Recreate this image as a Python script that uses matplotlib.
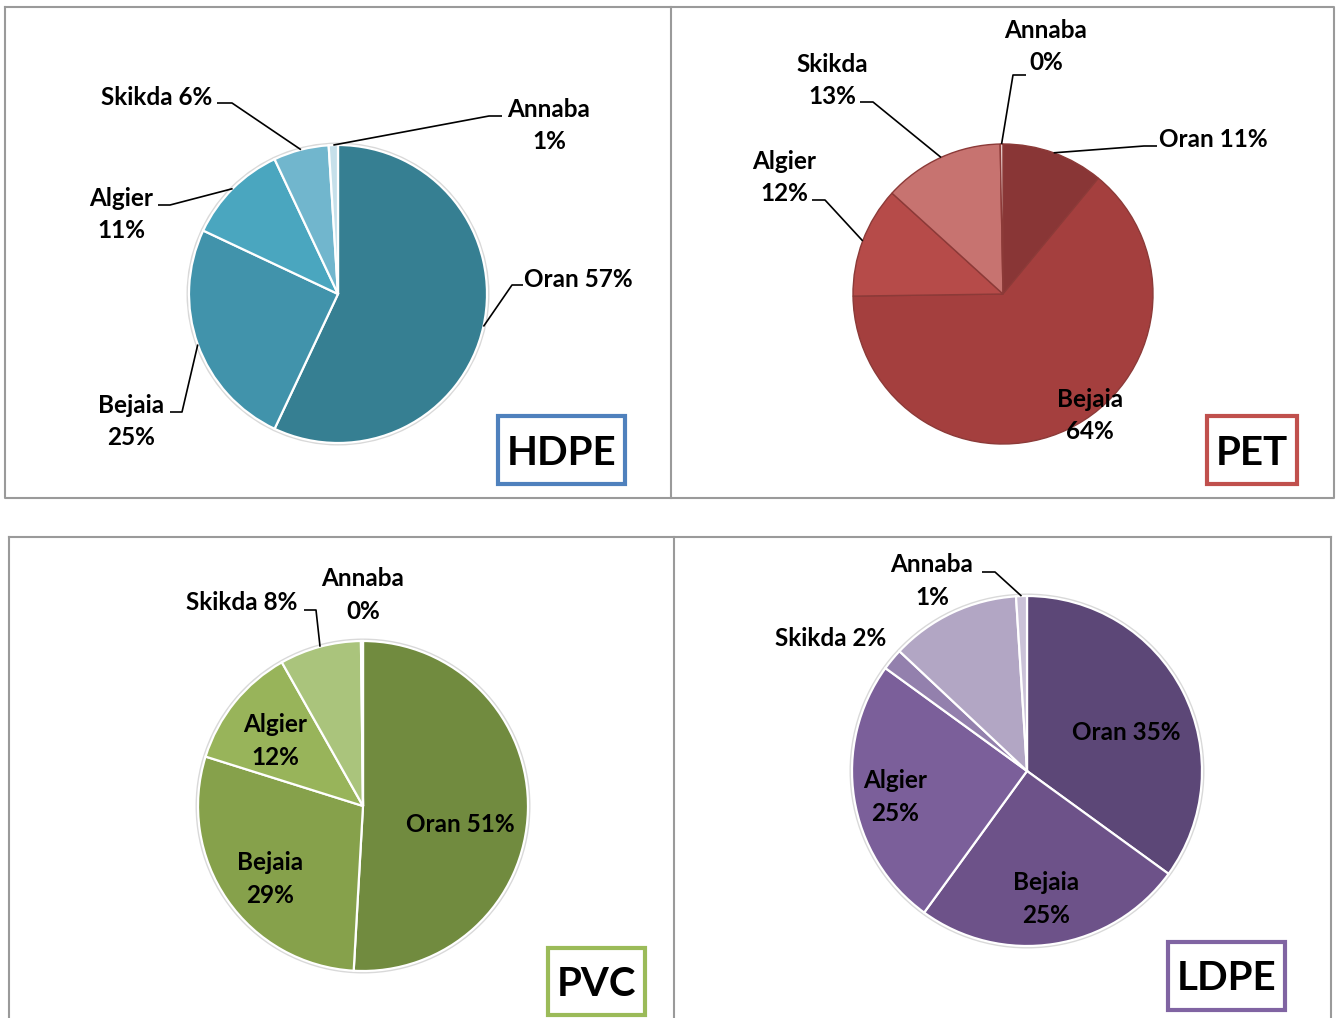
import numpy as np
import matplotlib.pyplot as plt
from matplotlib.patches import Circle, Rectangle

W, H = 1336, 1018

# data
cities = ["Oran", "Bejaia", "Algier", "Skikda", "Annaba"]
hdpe = [57, 25, 11, 6, 1]
pet = [11, 64, 12, 13, 0.3]
pvc = [51, 29, 12, 8, 0.2]
ldpe_cities = ["Oran", "Bejaia", "Algier", "Skikda", "", "Annaba"]
ldpe = [35, 25, 25, 2, 12, 1]

hdpe_colors = ["#367f92", "#4193ab", "#4aa6bf", "#71b6cd", "#c6e0ea"]
pet_colors = ["#893636", "#a43f3e", "#b64b49", "#c77370", "#e8cdcc"]
pvc_colors = ["#718b3f", "#86a14b", "#98b45a", "#aac47c", "#d6e3c3"]
ldpe_colors = ["#5c4777", "#6d5289", "#7b5f9a", "#9380ad", "#b2a6c4", "#cbc2d8"]

FONT = "Lato"
LBL = 17.5
LINE = 32.5

fig = plt.figure(figsize=(W / 100, H / 100), dpi=100)
ax = fig.add_axes([0, 0, 1, 1])


def label_text(x, y, lines):
    # y is the image row of the first line
    for i, s in enumerate(lines):
        ax.text(x, H - (y + i * LINE) - 1, s, ha="center", va="center",
                fontsize=LBL, fontweight="bold", family=FONT, color="black")


def panel(values, names, colors, cx, cy, r, edge, edge_lw, labels, shadow=True):
    if shadow:
        ax.add_patch(Circle((cx, H - cy), r + 2.5, facecolor="#d9d9d9",
                            edgecolor="none", zorder=0))
    ax.pie(values, colors=colors, startangle=90, counterclock=False,
           center=(cx, H - cy), radius=r,
           wedgeprops=dict(edgecolor=edge, linewidth=edge_lw))
    total = float(sum(values))
    cum = 0.0
    for v, name, lab in zip(values, names, labels):
        mid = np.radians((cum + v / 2) / total * 360)
        cum += v
        if lab is None:
            continue
        x, y, two, leader = lab
        pct = f"{round(v / total * 100):.0f}%"
        label_text(x, y, [name, pct] if two else [f"{name} {pct}"])
        if leader is not None:
            (ax_, ay), (ex, ey) = leader
            px = cx + r * np.sin(mid)
            py = cy - r * np.cos(mid)
            ax.plot([ax_, ex, px], [H - ay, H - ey, H - py], color="black",
                    lw=1.2, solid_capstyle="butt", zorder=5)


def tag(x0, y0, x1, y1, color, txt, size):
    ax.add_patch(Rectangle((x0, H - y1), x1 - x0, y1 - y0, facecolor="white",
                           edgecolor=color, lw=3, zorder=6))
    ax.text((x0 + x1) / 2, H - (y0 + y1) / 2 - 3, txt, ha="center", va="center",
            fontsize=size, fontweight="bold", family=FONT, zorder=7)


# HDPE
panel(hdpe, cities, hdpe_colors, 338, 294, 149, "white", 1.6, [
    (578, 278, False, ((523, 285), (512, 285))),
    (131, 404, True, ((170, 412), (182, 412))),
    (121, 197, True, ((158, 205), (170, 205))),
    (157, 96, False, ((217, 103), (232, 103))),
    (549, 108, True, ((502, 116), (489, 116))),
])
# PET
panel(pet, cities, pet_colors, 1003, 294, 150, "#8c3a38", 1.0, [
    (1213, 138, False, ((1157, 146), (1144, 146))),
    (1090, 398, True, None),
    (784, 160, True, ((812, 200), (825, 200))),
    (832, 63, True, ((860, 102), (873, 102))),
    (1046, 29, True, ((1026, 75), (1013, 75))),
], shadow=False)
# PVC
panel(pvc, cities, pvc_colors, 363, 806, 165, "white", 1.6, [
    (460, 824, False, None),
    (270, 862, True, None),
    (275, 724, True, None),
    (242, 602, False, ((304, 610), (316, 610))),
    (363, 578, True, None),
])
# LDPE
panel(ldpe, ldpe_cities, ldpe_colors, 1027, 771, 175, "white", 1.6, [
    (1126, 732, False, None),
    (1046, 882, True, None),
    (895, 780, True, None),
    (831, 637, False, None),
    None,
    (932, 564, True, ((982, 572), (995, 572))),
])

tag(498, 416, 625, 484, "#4f81bd", "HDPE", 29)
tag(1207, 416, 1297, 484, "#c0504d", "PET", 29)
tag(548, 948, 645, 1015, "#9bbb59", "PVC", 29)
tag(1168, 942, 1285, 1010, "#8064a2", "LDPE", 29)

# panel frames
g = dict(color="#9a9a9a", lw=1.5, zorder=8)
ax.plot([5, 1334, 1334, 5, 5], [H - 7, H - 7, H - 498, H - 498, H - 7], **g)
ax.plot([670.5, 670.5], [H - 7, H - 498], **g)
ax.plot([9, 1331], [H - 537, H - 537], **g)
for xv in (9, 673.5, 1331):
    ax.plot([xv, xv], [H - 537, 0], **g)

ax.set_xlim(0, W)
ax.set_ylim(0, H)
ax.set_aspect("auto")
ax.axis("off")

fig.savefig("out.png", dpi=100, facecolor="white")
